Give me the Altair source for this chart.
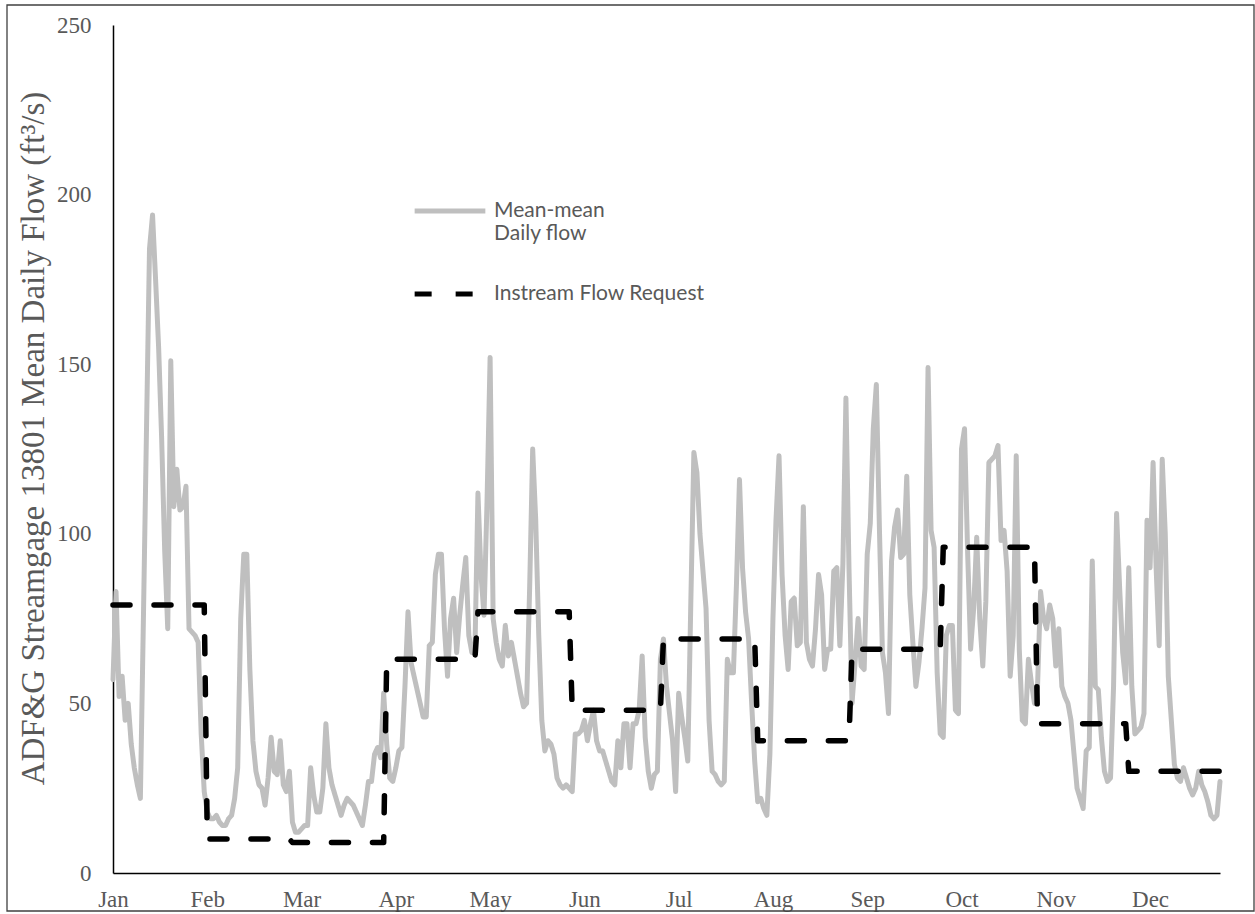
import altair as alt
import pandas as pd

# Month names shown on the category axis (one label every 31 days)
MONTHS = ["Jan", "Feb", "Mar", "Apr", "May", "Jun",
          "Jul", "Aug", "Sep", "Oct", "Nov", "Dec"]
MONTH_DAYS = [31, 28, 31, 30, 31, 30, 31, 31, 30, 31, 30, 31]

# Instream flow request by month (ft3/s)
IFR = [79, 10, 9, 63, 77, 48, 69, 39, 66, 96, 44, 30]

# Mean-mean daily flow (ft3/s), one value per day of the year
FLOW_JAN = [57, 83, 52, 58, 45, 50, 38, 31, 26, 22, 75, 130, 184, 194, 175, 155,
            128, 95, 72, 151, 108, 119, 107, 108, 114, 72, 71, 70, 68, 41, 24]
FLOW_FEB = [18, 16, 16, 17, 15, 14, 14, 16, 17, 22, 31, 75, 94, 94, 60, 39,
            30, 26, 25, 20, 28, 40, 30, 29, 39, 26, 24, 30]
FLOW_MAR = [15, 12, 12, 13, 14, 14, 31, 23, 18, 18, 25, 44, 31, 26, 23, 20,
            17, 20, 22, 21, 20, 18, 16, 14, 20, 27, 27, 35, 37, 34, 53]
FLOW_APR = [38, 28, 27, 31, 36, 37, 55, 77, 62, 58, 54, 50, 46, 46, 67, 68,
            88, 94, 94, 72, 58, 75, 81, 65, 76, 85, 93, 70, 65, 65]
FLOW_MAY = [112, 88, 76, 110, 152, 75, 68, 63, 61, 73, 64, 68, 63, 58, 53, 49,
            50, 84, 125, 104, 70, 45, 36, 39, 38, 35, 28, 26, 25, 26, 25]
FLOW_JUN = [24, 41, 41, 42, 45, 39, 44, 48, 39, 36, 36, 33, 30, 27, 26, 39,
            31, 44, 44, 31, 44, 44, 48, 64, 40, 30, 25, 29, 30, 63]
FLOW_JUL = [69, 55, 47, 39, 24, 53, 46, 40, 33, 80, 124, 118, 100, 89, 78, 45,
            30, 29, 27, 26, 27, 63, 59, 59, 85, 116, 90, 77, 69, 50, 33]
FLOW_AUG = [21, 22, 19, 17, 35, 75, 104, 123, 88, 70, 60, 80, 81, 67, 68, 108,
            68, 63, 61, 72, 88, 82, 60, 66, 66, 89, 90, 67, 91, 140, 90]
FLOW_SEP = [50, 62, 75, 61, 60, 94, 103, 131, 144, 102, 65, 59, 47, 92, 102, 107,
            93, 94, 117, 82, 68, 55, 62, 72, 84, 149, 101, 96, 59, 41]
FLOW_OCT = [40, 70, 73, 73, 48, 47, 125, 131, 95, 66, 78, 99, 75, 61, 80, 121,
            122, 123, 126, 98, 101, 89, 58, 70, 123, 66, 45, 44, 63, 56, 50]
FLOW_NOV = [55, 83, 75, 72, 79, 75, 61, 72, 55, 52, 50, 45, 35, 25, 22, 19,
            36, 37, 92, 55, 54, 40, 30, 27, 28, 55, 106, 84, 65, 56]
FLOW_DEC = [90, 55, 41, 42, 43, 47, 104, 90, 121, 90, 67, 122, 100, 58, 45, 32,
            28, 27, 31, 28, 25, 23, 25, 30, 26, 24, 21, 17, 16, 17, 27]

SERIES = ["Mean-mean Daily flow", "Instream Flow Request"]
LABEL_EVERY = 31

flow = (FLOW_JAN + FLOW_FEB + FLOW_MAR + FLOW_APR + FLOW_MAY + FLOW_JUN +
        FLOW_JUL + FLOW_AUG + FLOW_SEP + FLOW_OCT + FLOW_NOV + FLOW_DEC)
request = [v for v, n in zip(IFR, MONTH_DAYS) for _ in range(n)]
n_days = len(flow)

df = pd.DataFrame({
    "day": list(range(n_days)) * 2,
    "cfs": flow + request,
    "series": [SERIES[0]] * n_days + [SERIES[1]] * n_days,
})

month_js = "[" + ",".join(f"'{m}'" for m in MONTHS) + "]"
tick_days = [LABEL_EVERY * i for i in range(len(MONTHS))]

GREY_TEXT = "#595959"
SERIF = "Liberation Serif"

x_enc = alt.X(
    "day:Q",
    scale=alt.Scale(domain=[0, n_days - 1], nice=False, zero=False),
    axis=alt.Axis(
        values=tick_days,
        labelExpr=f"{month_js}[floor(datum.value / {LABEL_EVERY})]",
        title=None, grid=False, ticks=False, domainColor="black",
        domainWidth=1.5, labelFont=SERIF, labelFontSize=23,
        labelColor=GREY_TEXT, labelPadding=15, labelFlush=False,
    ),
)
y_enc = alt.Y(
    "cfs:Q",
    scale=alt.Scale(domain=[0, 250], nice=False),
    axis=alt.Axis(
        values=[0, 50, 100, 150, 200, 250],
        title="ADF&G Streamgage 13801 Mean Daily Flow (ft³/s)",
        titleFont=SERIF, titleFontSize=33, titleFontWeight="normal",
        titleColor=GREY_TEXT, titleAngle=270, titleX=-80, titleY=413,
        titleAlign="center", titleBaseline="middle",
        grid=False, ticks=False, domainColor="black", domainWidth=1.5,
        labelFont=SERIF, labelFontSize=23, labelColor=GREY_TEXT,
        labelPadding=22,
    ),
)
color_enc = alt.Color(
    "series:N",
    scale=alt.Scale(domain=SERIES, range=["#BFBFBF", "#000000"]),
    legend=alt.Legend(
        title=None, orient="none", legendX=299, legendY=148,
        direction="vertical", symbolType="stroke", symbolSize=5000,
        symbolStrokeWidth=5, labelFont="Lato", labelFontSize=21,
        labelColor=GREY_TEXT, labelOffset=6, rowPadding=12,
        labelBaseline="middle", labelLimit=0,
        labelExpr="datum.label == 'Mean-mean Daily flow' ? ['Mean-mean', 'Daily flow'] : datum.label",
    ),
)
dash_enc = alt.StrokeDash(
    "series:N",
    scale=alt.Scale(domain=SERIES, range=[[1, 0], [17, 24]]),
    legend=None,
)

base = alt.Chart(df).encode(x=x_enc, y=y_enc, color=color_enc, strokeDash=dash_enc)

flow_line = base.transform_filter(alt.datum.series == SERIES[0]).mark_line(
    strokeWidth=5, strokeJoin="round", strokeCap="round")
request_line = base.transform_filter(alt.datum.series == SERIES[1]).mark_line(
    strokeWidth=5.5, strokeJoin="round", strokeCap="round")

# Frame around the whole chart area
frame = alt.Chart(pd.DataFrame({"k": [0]})).mark_rect(
    fill=None, stroke="#404040", strokeWidth=1.3, clip=False
).encode(x=alt.value(-106), x2=alt.value(1141), y=alt.value(-20), y2=alt.value(886))

chart = alt.layer(flow_line, request_line, frame).properties(
    width=1107, height=848,
    autosize=alt.AutoSizeParams(type="none"),
    padding={"left": 113, "top": 25, "right": 35, "bottom": 41},
    background="white",
).configure_view(stroke=None)

chart.save("out.html", embed_options={"renderer": "svg", "actions": False})
